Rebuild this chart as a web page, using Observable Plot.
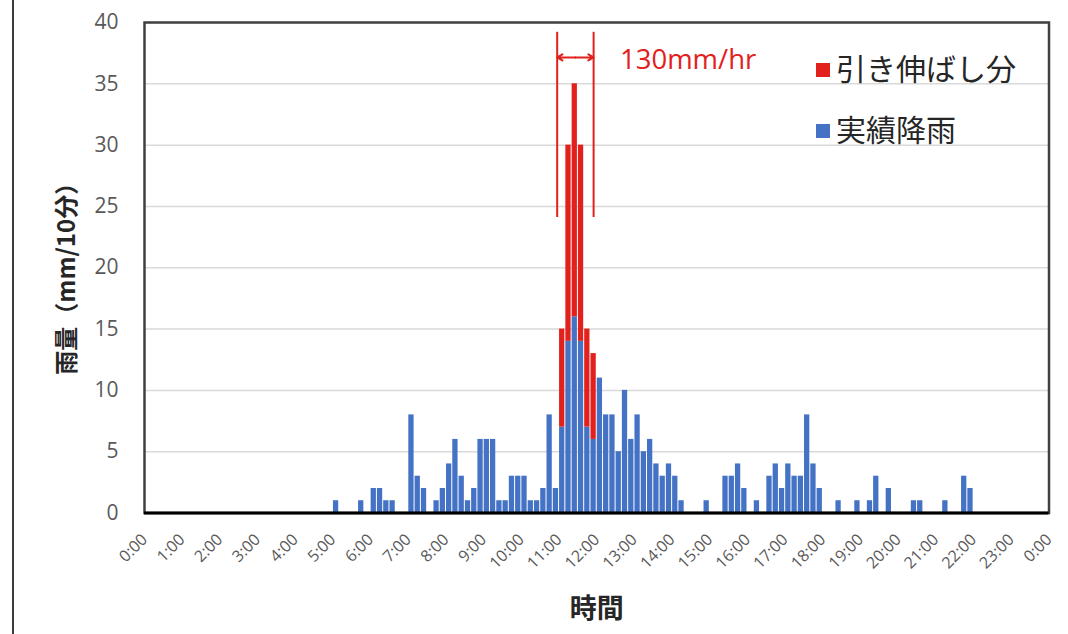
<!DOCTYPE html>
<html>
<head>
<meta charset="utf-8">
<script src="https://cdn.jsdelivr.net/npm/d3@7"></script>
<script src="https://cdn.jsdelivr.net/npm/@observablehq/plot@0.6"></script>
<style>
  html, body { margin: 0; padding: 0; background: #fff; }
  #wrap { position: relative; width: 1068px; height: 634px; overflow: hidden; }
  #edge { position: absolute; left: 12px; top: 0; width: 2px; height: 634px; background: #3c3c3c; }
  .lg { position: absolute; font-family: 'Noto Sans CJK JP', sans-serif; font-size: 30px; color: #262626; line-height: 40px; white-space: nowrap; }
  .sw { position: absolute; width: 14px; height: 14px; }
</style>
</head>
<body>
<div id="wrap">
  <div id="edge"></div>
</div>
<script>
// 10-minute rainfall (mm/10min), 144 bins from 0:00, six per hour
const actualRain = [
  0,0,0,0,0,0,   // 0:00
  0,0,0,0,0,0,   // 1:00
  0,0,0,0,0,0,   // 2:00
  0,0,0,0,0,0,   // 3:00
  0,0,0,0,0,0,   // 4:00
  1,0,0,0,1,0,   // 5:00
  2,2,1,1,0,0,   // 6:00
  8,3,2,0,1,2,   // 7:00
  4,6,3,1,2,6,   // 8:00
  6,6,1,1,3,3,   // 9:00
  3,1,1,2,8,2,   // 10:00
  7,14,16,14,7,6,// 11:00
  11,8,8,5,10,6, // 12:00
  8,5,6,4,3,4,   // 13:00
  3,1,0,0,0,1,   // 14:00
  0,0,3,3,4,2,   // 15:00
  0,1,0,3,4,2,   // 16:00
  4,3,3,8,4,2,   // 17:00
  0,0,1,0,0,1,   // 18:00
  0,1,3,0,2,0,   // 19:00
  0,0,1,1,0,0,   // 20:00
  0,1,0,0,3,2,   // 21:00
  0,0,0,0,0,0,   // 22:00
  0,0,0,0,0,0    // 23:00
];
// stretched portion added on top (引き伸ばし分), 11:00-11:50
const stretchStart = [660, 670, 680, 690, 700, 710];
const stretchExtra = [8, 16, 19, 16, 8, 7];

const binMinutes = 10;
const xTicks = d3.range(0, 1441, 60);
const xTickLabels = xTicks.map(m => `${Math.floor(m / 60) % 24}:00`);
const yTicks = [0, 5, 10, 15, 20, 25, 30, 35, 40];

// annotation: 1-hour bracket (minutes) and label
const bracketX = [657, 715];
const bracketY = [24.1, 39.2];
const arrowY = 37.15;
const annoLabel = "130mm/hr";
const annoLabelX = 757;
const annoLabelY = 36.9;

const seriesNames = ["引き伸ばし分", "実績降雨"];
const seriesColors = ["#e3211c", "#4472c4"];

// build rows
const actualRows = actualRain.map((v, i) => ({x1: i * binMinutes, x2: i * binMinutes + binMinutes, y1: 0, y2: v}))
  .filter(d => d.y2 > 0);
const stretchRows = stretchStart.map((s, i) => {
  const base = actualRain[s / binMinutes];
  return {x1: s, x2: s + binMinutes, y1: base, y2: base + stretchExtra[i]};
});

const mid = (bracketX[0] + bracketX[1]) / 2;

const chart = Plot.plot({
  width: 1068,
  height: 634,
  marginLeft: 144,
  marginRight: 19.5,
  marginTop: 22,
  marginBottom: 121.5,
  style: {fontFamily: "'Open Sans', 'Noto Sans CJK JP', sans-serif", background: "transparent"},
  x: {domain: [0, 1440], axis: null},
  y: {domain: [0, 40], axis: null},
  marks: [
    Plot.gridY(yTicks, {stroke: "#d9d9d9", strokeOpacity: 1, strokeWidth: 1.5}),
    Plot.rectY(actualRows, {x1: "x1", x2: "x2", y1: "y1", y2: "y2", fill: seriesColors[1], insetLeft: 0.5, insetRight: 0.5}),
    Plot.rectY(stretchRows, {x1: "x1", x2: "x2", y1: "y1", y2: "y2", fill: seriesColors[0], insetLeft: 0.5, insetRight: 0.5}),
    Plot.frame({stroke: "#404040", strokeWidth: 2.5}),
    Plot.ruleY([0], {stroke: "#000", strokeWidth: 3}),
    // y tick labels
    Plot.axisY({ticks: yTicks, tickSize: 0, tickPadding: 26, fontSize: 21, color: "#595959", label: null}),
    // x tick labels, rotated
    Plot.text(xTicks, {x: d => d, frameAnchor: "bottom", text: (d, i) => xTickLabels[i], rotate: -45, textAnchor: "end", lineAnchor: "middle", dy: 24, dx: 0, fontSize: 16, fill: "#595959"}),
    // axis titles
    Plot.text(["雨量（mm/10分）"], {frameAnchor: "left", textAnchor: "middle", lineAnchor: "middle", dx: -77, dy: 5, rotate: -90, fontSize: 24, fontWeight: "bold", fill: "#262626", fontFamily: "'Noto Sans CJK JP', sans-serif"}),
    Plot.text(["時間"], {frameAnchor: "bottom", textAnchor: "middle", lineAnchor: "middle", dy: 96, fontSize: 27, fontWeight: "bold", fill: "#262626", fontFamily: "'Noto Sans CJK JP', sans-serif"}),
    // annotation bracket
    Plot.ruleX(bracketX, {y1: bracketY[0], y2: bracketY[1], stroke: seriesColors[0], strokeWidth: 2}),
    Plot.arrow([bracketX[0], bracketX[1]], {x1: mid, x2: d => d, y1: arrowY, y2: arrowY, stroke: seriesColors[0], strokeWidth: 2, headLength: 9, insetEnd: 0}),
    Plot.text([annoLabel], {x: annoLabelX, y: annoLabelY, text: d => d, textAnchor: "start", lineAnchor: "middle", fontSize: 27.5, fill: seriesColors[0]})
  ]
});

const wrap = document.getElementById("wrap");
chart.style.position = "absolute";
chart.style.left = "0";
chart.style.top = "0";
wrap.appendChild(chart);

// legend (HTML overlay)
const legendTop = [47, 108];
seriesNames.forEach((name, i) => {
  const sw = document.createElement("div");
  sw.className = "sw";
  sw.style.left = "816px";
  sw.style.top = (legendTop[i] + 16) + "px";
  sw.style.background = seriesColors[i];
  wrap.appendChild(sw);
  const t = document.createElement("div");
  t.className = "lg";
  t.style.left = "836px";
  t.style.top = legendTop[i] + "px";
  t.textContent = name;
  wrap.appendChild(t);
});
</script>
</body>
</html>
